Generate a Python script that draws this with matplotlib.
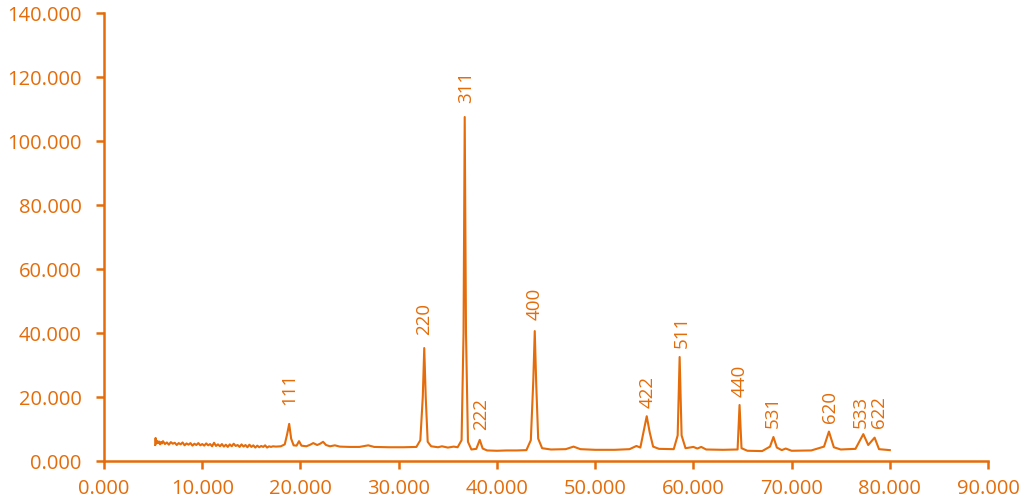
import matplotlib
matplotlib.use('Agg')
import matplotlib.pyplot as plt
from matplotlib.ticker import FormatStrFormatter

# XRD pattern (2theta in degrees, intensity)
two_theta = [
    5.20, 5.25, 5.30, 5.40, 5.50, 5.60, 5.70, 5.80, 5.90, 6.00,
    6.20, 6.40, 6.60, 6.80, 7.00, 7.20, 7.40, 7.60, 7.80, 8.00,
    8.20, 8.40, 8.60, 8.80, 9.00, 9.20, 9.40, 9.60, 9.80, 10.00,
    10.20, 10.40, 10.60, 10.80, 11.00, 11.20, 11.40, 11.60, 11.80, 12.00,
    12.20, 12.40, 12.60, 12.80, 13.00, 13.20, 13.40, 13.60, 13.80, 14.00,
    14.20, 14.40, 14.60, 14.80, 15.00, 15.20, 15.40, 15.60, 15.80, 16.00,
    16.20, 16.40, 16.60, 16.80, 17.00, 17.20, 17.50, 18.00, 18.40, 18.65,
    18.85, 19.05, 19.30, 19.60, 19.85, 20.10, 20.60, 21.00, 21.30, 21.70,
    22.00, 22.30, 22.60, 23.00, 23.50, 24.00, 25.00, 26.00, 26.90, 27.50,
    29.00, 30.50, 31.80, 32.20, 32.45, 32.60, 32.75, 32.95, 33.30, 34.00,
    34.40, 35.00, 35.60, 36.00, 36.40, 36.60, 36.72, 36.85, 37.05, 37.40,
    37.90, 38.25, 38.55, 39.00, 40.00, 41.00, 42.00, 43.00, 43.45, 43.70,
    43.85, 44.00, 44.20, 44.60, 45.50, 47.00, 47.80, 48.50, 50.00, 52.00,
    53.50, 54.20, 54.60, 54.95, 55.25, 55.55, 55.90, 56.50, 58.00, 58.40,
    58.60, 58.80, 59.20, 60.00, 60.40, 60.80, 61.30, 63.00, 64.50, 64.70,
    64.90, 65.50, 67.00, 67.80, 68.15, 68.50, 69.00, 69.40, 70.00, 72.00,
    73.30, 73.80, 74.30, 75.00, 76.50, 77.30, 77.80, 78.45, 78.90, 80.00,
]
intensity = [
    5.0, 7.2, 5.4, 6.3, 5.6, 6.1, 5.2, 5.9, 5.5, 6.2,
    5.3, 5.8, 5.1, 5.9, 5.4, 5.7, 5.0, 5.6, 5.2, 5.8,
    4.9, 5.5, 5.1, 5.6, 4.8, 5.4, 5.0, 5.6, 4.9, 5.3,
    4.8, 5.5, 4.9, 5.3, 4.6, 5.7, 4.7, 5.2, 4.6, 5.3,
    4.5, 5.1, 4.4, 5.2, 4.6, 5.4, 4.7, 5.0, 4.4, 5.2,
    4.5, 5.0, 4.3, 5.1, 4.4, 4.9, 4.2, 4.8, 4.3, 4.7,
    4.4, 4.9, 4.2, 4.6, 4.4, 4.6, 4.5, 4.6, 5.2, 8.5,
    11.6, 7.0, 4.9, 4.8, 6.2, 4.8, 4.6, 5.1, 5.6, 5.0,
    5.4, 6.0, 5.0, 4.6, 4.9, 4.5, 4.4, 4.4, 4.9, 4.4,
    4.3, 4.3, 4.4, 6.5, 20.0, 35.3, 20.0, 6.0, 4.6, 4.3,
    4.6, 4.2, 4.5, 4.3, 6.5, 40.0, 107.5, 40.0, 6.0, 3.6,
    3.8, 6.6, 3.9, 3.3, 3.2, 3.3, 3.3, 3.4, 6.5, 25.0,
    40.6, 24.0, 7.0, 4.0, 3.6, 3.7, 4.5, 3.7, 3.5, 3.5,
    3.7, 4.7, 4.2, 9.5, 14.0, 9.0, 4.5, 3.8, 3.7, 8.0,
    32.5, 8.0, 4.0, 4.4, 3.9, 4.4, 3.6, 3.5, 3.6, 17.5,
    4.0, 3.2, 3.1, 4.5, 7.5, 4.2, 3.4, 3.9, 3.2, 3.3,
    4.5, 9.2, 4.3, 3.6, 3.8, 8.4, 5.0, 7.3, 3.7, 3.4,
]

# Miller index labels
hkl_labels = ['111', '220', '311', '222', '400', '422', '511', '440', '531', '620', '533', '622']
label_x = [18.9, 32.6, 36.9, 38.4, 43.8, 55.3, 58.8, 64.7, 68.1, 73.9, 77.0, 78.9]
label_y = [17.5, 39.4, 111.9, 9.7, 44.1, 16.6, 35.3, 20.0, 10.3, 11.9, 10.3, 10.3]

orange = '#E46C0A'
plt.rcParams['font.family'] = ['Open Sans', 'DejaVu Sans']

fig = plt.figure(figsize=(10.24, 5.04), dpi=100)
ax = fig.add_axes([0.1016, 0.0853, 0.8633, 0.8889])

ax.plot(two_theta, intensity, color=orange, linewidth=1.5)

for lab, lx, ly in zip(hkl_labels, label_x, label_y):
    ax.text(lx, ly, lab, rotation=90, ha='center', va='bottom',
            fontsize=13.5, color=orange)

ax.set_xlim(0, 90)
ax.set_ylim(0, 140)
ax.set_xticks(range(0, 91, 10))
ax.set_yticks(range(0, 141, 20))
ax.xaxis.set_major_formatter(FormatStrFormatter('%.3f'))
ax.yaxis.set_major_formatter(FormatStrFormatter('%.3f'))

for side in ['top', 'right']:
    ax.spines[side].set_visible(False)
for side in ['left', 'bottom']:
    ax.spines[side].set_color(orange)
    ax.spines[side].set_linewidth(1.8)

ax.tick_params(axis='both', colors=orange, labelcolor=orange, labelsize=14.5,
               width=1.8, length=6, direction='out')
ax.tick_params(axis='y', pad=10)
ax.tick_params(axis='x', pad=7)

fig.savefig('out.png', dpi=100)
